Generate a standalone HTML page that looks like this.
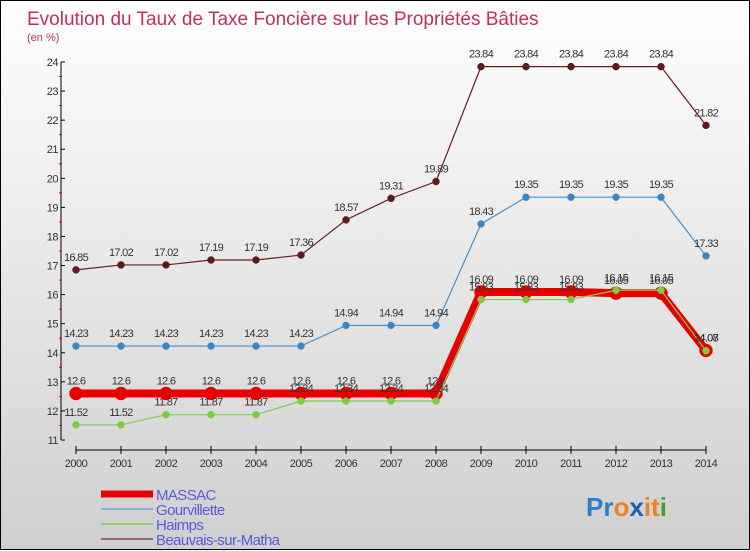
<!DOCTYPE html>
<html><head><meta charset="utf-8"><style>
html,body{margin:0;padding:0}
body{width:750px;height:550px;overflow:hidden;font-family:"Liberation Sans",sans-serif}
#wrap{position:relative;width:748px;height:548px;border:1px solid #000;background:linear-gradient(#ffffff,#cfcfcf)}
svg{position:absolute;left:0;top:0}
</style></head><body>
<div id="wrap">
<svg id="chart" width="750" height="550">
<text x="26" y="24" font-size="19" fill="#c0305a">Evolution du Taux de Taxe Foncière sur les Propriétés Bâties</text>
<text x="26" y="40" font-size="11" fill="#c0305a">(en %)</text>
<g id="axes"></g><g id="series"></g><g id="legend"></g>
<text x="585" y="515" font-size="26" font-weight="bold"><tspan fill="#2a7fc8">Pr</tspan><tspan fill="#f08020">o</tspan><tspan fill="#1a5fb0">x</tspan><tspan fill="#f08020">it</tspan><tspan fill="#40a040">i</tspan></text>
</svg>
</div>
<script>
const years=[2000,2001,2002,2003,2004,2005,2006,2007,2008,2009,2010,2011,2012,2013,2014];
const yTicks=[11,12,13,14,15,16,17,18,19,20,21,22,23,24];
const seriesNames=["MASSAC","Gourvillette","Haimps","Beauvais-sur-Matha"];
const massac=[12.6,12.6,12.6,12.6,12.6,12.6,12.6,12.6,12.6,16.09,16.09,16.09,16.05,16.05,14.08];
const gourvillette=[14.23,14.23,14.23,14.23,14.23,14.23,14.94,14.94,14.94,18.43,19.35,19.35,19.35,19.35,17.33];
const haimps=[11.52,11.52,11.87,11.87,11.87,12.34,12.34,12.34,12.34,15.83,15.83,15.83,16.15,16.15,14.07];
const beauvais=[16.85,17.02,17.02,17.19,17.19,17.36,18.57,19.31,19.89,23.84,23.84,23.84,23.84,23.84,21.82];
const NS="http://www.w3.org/2000/svg";
const xs=i=>75+i*45;
const ys=v=>439-(v-11)*(378/13);
function mk(tag,attrs,parent){const e=document.createElementNS(NS,tag);for(const k in attrs)e.setAttribute(k,attrs[k]);parent.appendChild(e);return e;}
const axes=document.getElementById('axes');
let a=mk('line',{x1:60,y1:61,x2:60,y2:439,stroke:'#000'},axes);


a=mk('line',{x1:75,y1:449,x2:705,y2:449,stroke:'#000'},axes);


yTicks.forEach(t=>{
  mk('line',{x1:60,y1:ys(t),x2:64,y2:ys(t),stroke:'#000'},axes);
  if(t<24) mk('line',{x1:58,y1:ys(t+0.5),x2:61,y2:ys(t+0.5),stroke:'#e00'},axes);
  const tx=mk('text',{x:57,y:ys(t)+4,'font-size':11,'text-anchor':'end',fill:'#333','letter-spacing':'-0.5'},axes);
  tx.textContent=t;
  
  
});
years.forEach((y,i)=>{
  mk('line',{x1:xs(i),y1:445,x2:xs(i),y2:453,stroke:'#000'},axes);
  const tx=mk('text',{x:xs(i),y:466,'font-size':11,'text-anchor':'middle',fill:'#333','letter-spacing':'-0.5'},axes);
  tx.textContent=y;
  
  
});
const sg=document.getElementById('series');
function draw(vals,color,w,r,dot,name){
  const g=mk('g',{},sg);
  
  
  const pl=mk('polyline',{points:vals.map((v,i)=>xs(i)+','+ys(v)).join(' '),fill:'none',stroke:color,'stroke-width':w},g);
  
  
  vals.forEach((v,i)=>{
    const c=mk('circle',{cx:xs(i),cy:ys(v),r:r,fill:dot,stroke:color,'stroke-width':0.5},g);
    
    
    const t=mk('text',{x:xs(i),y:ys(v)-9,'font-size':11,'text-anchor':'middle',fill:'#333','letter-spacing':'-0.7'},g);
    t.textContent=v;
    
    
  });
}
draw(beauvais,'#6b1d22',1.2,3.5,'#5a1a1e','beauvais');
draw(gourvillette,'#4a90c8',1.2,3.5,'#3a86c5','gourvillette');
draw(massac,'#e80000',8,6.5,'#e80000','massac');
draw(haimps,'#80cc50',1.2,3.5,'#7acc40','haimps');
const lg=document.getElementById('legend');
const lcol=['#e80000','#8ab0cc','#90d070','#9a6a6a'];
const lw=[7,2,2,2];
seriesNames.forEach((n,i)=>{
  const y=493+i*15;
  const l=mk('line',{x1:100,y1:y,x2:152,y2:y,stroke:lcol[i],'stroke-width':lw[i]},lg);
  
  
  const t=mk('text',{x:155,y:y+6,'font-size':15,fill:'#5a5ae0','letter-spacing':'-0.6'},lg);
  t.textContent=n;
  
  
});
</script>
</body></html>
